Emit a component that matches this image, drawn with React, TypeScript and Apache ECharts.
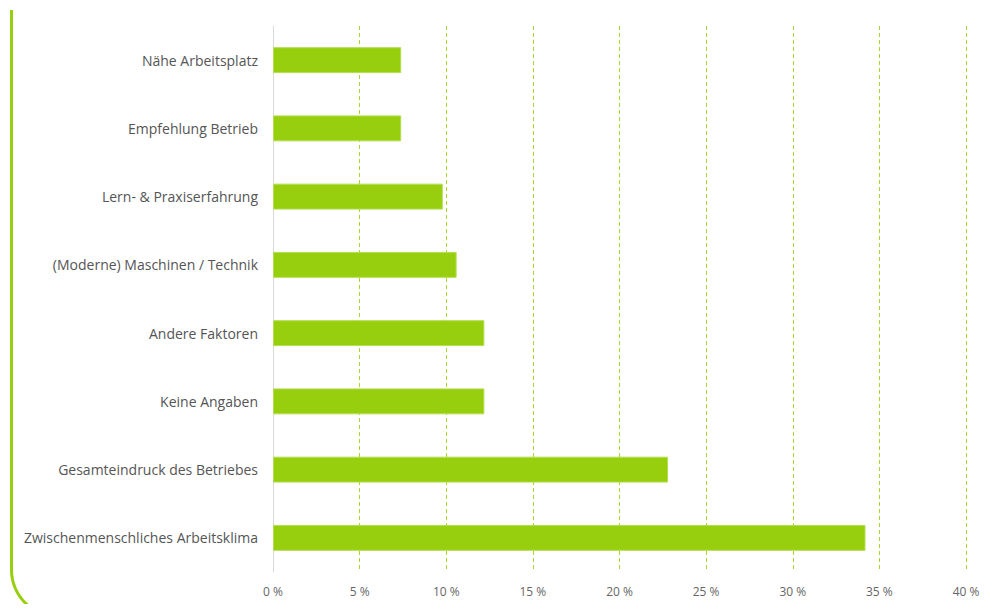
import React, { useEffect, useRef } from "react";
import * as echarts from "echarts";

const categories = [
  "Nähe Arbeitsplatz",
  "Empfehlung Betrieb",
  "Lern- & Praxiserfahrung",
  "(Moderne) Maschinen / Technik",
  "Andere Faktoren",
  "Keine Angaben",
  "Gesamteindruck des Betriebes",
  "Zwischenmenschliches Arbeitsklima",
];
const values = [7.4, 7.4, 9.8, 10.6, 12.2, 12.2, 22.8, 34.2];

export default function App() {
  const ref = useRef<HTMLDivElement>(null);
  useEffect(() => {
    const chart = echarts.init(ref.current!, null, { renderer: "svg" });
    chart.setOption({
      animation: false,
      textStyle: { fontFamily: "Open Sans" },
      grid: { left: 273, right: 36, top: 26, bottom: 40, containLabel: false },
      xAxis: {
        type: "value",
        min: 0,
        max: 40,
        interval: 5,
        axisLine: { show: false },
        axisTick: { show: false },
        axisLabel: {
          formatter: (v: number) => `${v} %`,
          color: "#666",
          fontSize: 12,
          margin: 13,
        },
        splitLine: {
          show: true,
          lineStyle: { color: "#a8d632", type: [4, 3], width: 1 },
        },
      },
      yAxis: {
        type: "category",
        data: categories,
        inverse: true,
        axisLine: { show: true, lineStyle: { color: "#d9d9d9", width: 1 } },
        axisTick: { show: false },
        axisLabel: { color: "#555", fontSize: 14, margin: 15 },
      },
      series: [
        {
          type: "bar",
          data: values,
          barWidth: "38%",
          itemStyle: { color: "#97cf0f", borderColor: "#b4de4f", borderWidth: 1 },
        },
      ],
    });
    return () => chart.dispose();
  }, []);
  return (
    <div style={{ position: "relative", width: 1002, height: 612, margin: -8, overflow: "hidden", background: "#fff" }}>
      <div
        style={{
          position: "absolute",
          left: 10,
          top: 10,
          width: 1100,
          height: 608,
          borderLeft: "3px solid #97cf0f",
          borderBottom: "3px solid #97cf0f",
          borderBottomLeftRadius: 48,
          boxSizing: "border-box",
        }}
      />
      <div ref={ref} style={{ position: "absolute", left: 0, top: 0, width: 1002, height: 612 }} />
    </div>
  );
}
